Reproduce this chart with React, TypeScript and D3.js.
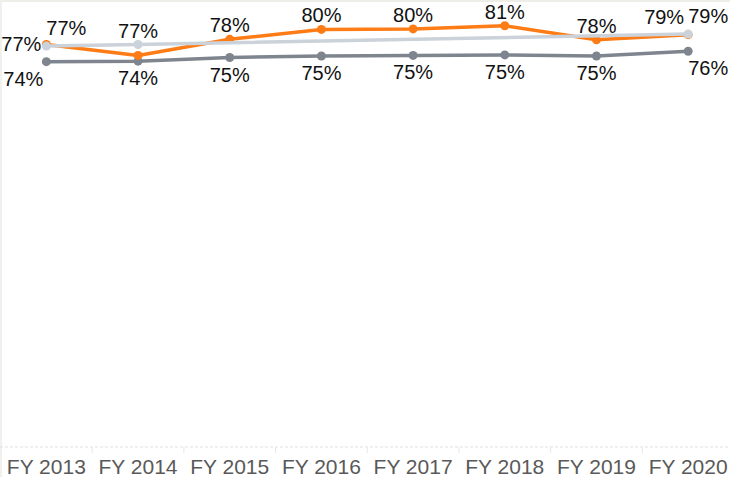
import React from "react";
import * as d3 from "d3";

const categories = ["FY 2013", "FY 2014", "FY 2015", "FY 2016", "FY 2017", "FY 2018", "FY 2019", "FY 2020"];
const orangeValues: (number | null)[] = [0.774, 0.753, 0.784, 0.803, 0.804, 0.81, 0.783, 0.793];
const lightValues: (number | null)[] = [0.771, 0.774, null, null, null, null, null, 0.794];
const darkValues: (number | null)[] = [0.741, 0.742, 0.749, 0.752, 0.753, 0.754, 0.752, 0.761];

type Place = "above" | "below" | "left" | "leftBelow" | "rightBelow" | "rightAbove" | "leftAbove" | "none";

const W = 730;
const H = 477;

export default function App() {
  const x = d3.scaleBand<string>().domain(categories).range([0.5, 734]).padding(0);
  const y = d3.scaleLinear().domain([0, 1]).range([447, -73]);
  const cx = (i: number) => (x(categories[i]) ?? 0) + x.bandwidth() / 2;
  const fmt = d3.format(".0%");

  const series = [
    {
      key: "dark",
      values: darkValues,
      color: "#7f858f",
      place: ["leftBelow", "below", "below", "below", "below", "below", "below", "rightBelow"] as Place[],
    },
    {
      key: "orange",
      values: orangeValues,
      color: "#fd7c16",
      place: ["left", "none", "above", "above", "above", "above", "above", "leftAbove"] as Place[],
    },
    {
      key: "light",
      values: lightValues,
      color: "#cbd2da",
      place: ["rightAbove", "above", "none", "none", "none", "none", "none", "rightAbove"] as Place[],
    },
  ];

  const line = d3
    .line<{ i: number; v: number }>()
    .x((d) => cx(d.i))
    .y((d) => y(d.v));

  const labelPos = (p: Place, px: number, py: number) => {
    switch (p) {
      case "above":
        return { x: px, y: py - 14, anchor: "middle" };
      case "below":
        return { x: px, y: py + 17, anchor: "middle" };
      case "left":
        return { x: px - 5, y: py - 1, anchor: "end" };
      case "leftBelow":
        return { x: px - 3, y: py + 17, anchor: "end" };
      case "rightBelow":
        return { x: px, y: py + 17, anchor: "start" };
      case "rightAbove":
        return { x: px, y: py - 18, anchor: "start" };
      case "leftAbove":
        return { x: px - 4, y: py - 18, anchor: "end" };
      default:
        return null;
    }
  };

  const ticks = categories.slice(1).map((c) => x(c) ?? 0);

  return (
    <svg
      width={W}
      height={H}
      style={{ position: "absolute", left: 0, top: 0, background: "#fff" }}
      fontFamily="'Liberation Sans', Arial, sans-serif"
    >
      <rect x={0} y={0} width={W} height={H} fill="#ffffff" />
      <line x1={0} x2={W} y1={1} y2={1} stroke="#eeeee8" strokeWidth={2} />
      <line x1={1} x2={1} y1={0} y2={H} stroke="#f0f0ec" strokeWidth={2} />
      <line x1={0} x2={W} y1={y(0)} y2={y(0)} stroke="#e2e2e2" strokeWidth={1.2} strokeDasharray="3,2" />
      {ticks.map((t, i) => (
        <line key={i} x1={t} x2={t} y1={y(0)} y2={y(0) + 6} stroke="#e6e6e6" strokeWidth={1} />
      ))}
      {categories.map((c, i) => (
        <text key={c} x={cx(i)} y={474} textAnchor="middle" fontSize={21} fill="#595959">
          {c}
        </text>
      ))}
      {series.map((s) => {
        const pts = s.values
          .map((v, i) => ({ i, v }))
          .filter((d) => d.v !== null) as { i: number; v: number }[];
        return (
          <g key={s.key}>
            <path d={line(pts) ?? ""} fill="none" stroke={s.color} strokeWidth={3.5} strokeLinejoin="round" strokeLinecap="round" />
            {pts.map((d) => (
              <circle key={d.i} cx={cx(d.i)} cy={y(d.v)} r={4.5} fill={s.color} />
            ))}
          </g>
        );
      })}
      {series.map((s) =>
        s.values.map((v, i) => {
          if (v === null) return null;
          const lp = labelPos(s.place[i], cx(i), y(v));
          if (!lp) return null;
          return (
            <text
              key={s.key + i}
              x={lp.x}
              y={lp.y}
              textAnchor={lp.anchor as any}
              dominantBaseline="central"
              fontSize={20}
              fill="#111"
            >
              {fmt(v)}
            </text>
          );
        })
      )}
    </svg>
  );
}
